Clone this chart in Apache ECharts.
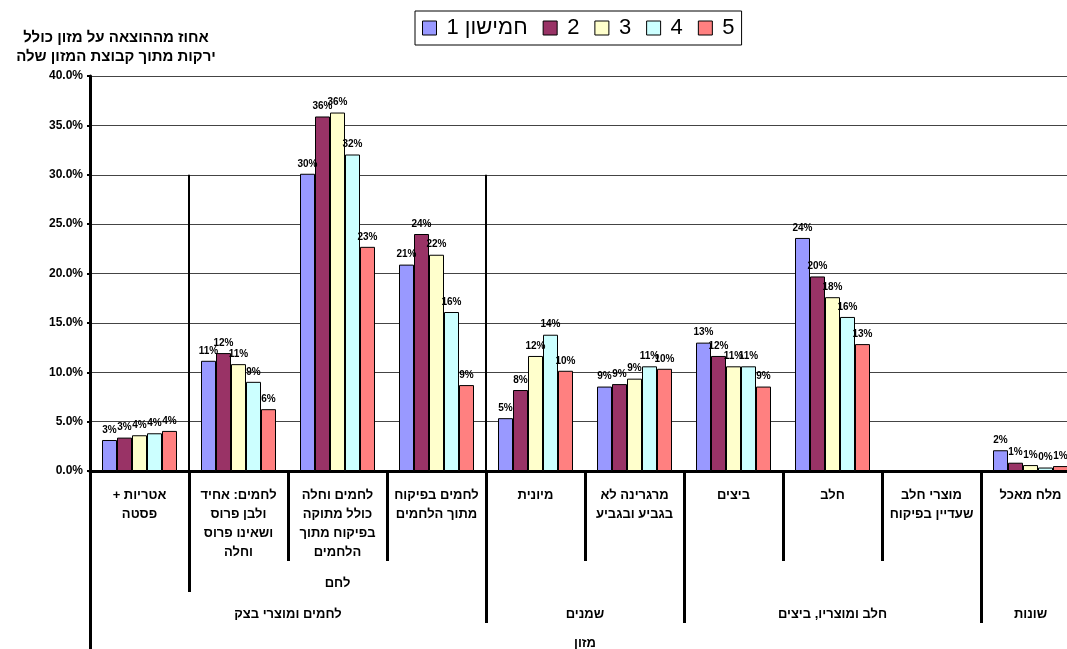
<!DOCTYPE html>
<html>
<head>
<meta charset="utf-8">
<script src="https://cdn.jsdelivr.net/npm/echarts@6/dist/echarts.min.js"></script>
<style>
html,body{margin:0;padding:0;background:#fff;overflow:hidden;}
#chart{width:1067px;height:649px;}
</style>
</head>
<body>
<div id="chart"></div>
<script>
// ---- data ----
const categories = [
  'אטריות +\u200F\nפסטה',
  'לחמים: אחיד\nולבן פרוס\nושאינו פרוס\nוחלה',
  'לחמים וחלה\nכולל מתוקה\nבפיקוח מתוך\nהלחמים',
  'לחמים בפיקוח\nמתוך הלחמים',
  'מיונית',
  'מרגרינה לא\nבגביע ובגביע',
  'ביצים',
  'חלב',
  'מוצרי חלב\nשעדיין בפיקוח',
  'מלח מאכל'
];
const seriesNames = ['\u20661 חמישון\u2069', '2', '3', '4', '5'];
const q1 = [3.14, 11.16, 30.1, 20.9, 5.35, 8.55, 13.0, 23.6, '-', 2.1];
const q2 = [3.38, 11.94, 35.9, 24.0, 8.2, 8.8, 11.65, 19.7, '-', 0.84];
const q3 = [3.62, 10.82, 36.3, 21.9, 11.65, 9.35, 10.6, 17.6, '-', 0.6];
const q4 = [3.82, 9.03, 32.05, 16.1, 13.8, 10.6, 10.6, 15.6, '-', 0.35];
const q5 = [4.06, 6.26, 22.7, 8.7, 10.15, 10.35, 8.55, 12.85, '-', 0.5];
// category groups (start index, end index)
const level2Groups = [{ name: 'לחם', from: 1, to: 3 }];
const level3Groups = [
  { name: 'לחמים ומוצרי בצק', from: 0, to: 3 },
  { name: 'שמנים', from: 4, to: 5 },
  { name: 'חלב ומוצריו, ביצים', from: 6, to: 8 },
  { name: 'שונות', from: 9, to: 9 }
];
const level4Groups = [{ name: 'מזון', from: 0, to: 9 }];
// vertical separator lines drawn inside plot (boundary after category index, height in %)
const plotSeparators = [{ after: 0, top: 30 }, { after: 3, top: 30 }];
const yTicks = { min: 0, max: 40, step: 5 };
const titleText = 'אחוז מההוצאה על מזון כולל\nירקות מתוך קבוצת המזון שלה';
const colors = ['#9999FF', '#993366', '#FFFFCC', '#CCFFFF', '#FF8080'];

// ---- build ----
const FONT = '"Liberation Sans", Arial, "DejaVu Sans", sans-serif';
const N = categories.length;
const slots = [];
for (let k = 0; k <= 2 * N; k++) slots.push(String(k));

function labelSlots(groups) {
  const arr = slots.map(() => '');
  groups.forEach(g => { arr[g.from + g.to + 1] = g.name; });
  return arr;
}
const boundaryLevel = slots.map((s, k) => (k % 2 === 0 ? 1 : 0));
function markBounds(groups, lvl) {
  groups.forEach(g => {
    const a = 2 * g.from, b = 2 * (g.to + 1);
    boundaryLevel[a] = Math.max(boundaryLevel[a], lvl);
    boundaryLevel[b] = Math.max(boundaryLevel[b], lvl);
  });
}
markBounds(level2Groups, 2);
markBounds(level3Groups, 3);
markBounds(level4Groups, 4);

const tickLen = { 1: 90, 2: 121, 3: 152, 4: 185 };
const labelMargin = { 2: 103, 3: 134, 4: 163 };
const levelLabels = { 1: slots.map(() => ''), 2: labelSlots(level2Groups), 3: labelSlots(level3Groups), 4: labelSlots(level4Groups) };

const extraAxes = [1, 2, 3, 4].map(lvl => ({
  type: 'category',
  gridIndex: 0,
  position: 'bottom',
  boundaryGap: false,
  data: levelLabels[lvl],
  axisLine: { show: false },
  axisTick: {
    show: true,
    length: tickLen[lvl],
    interval: (i) => boundaryLevel[i] === lvl,
    lineStyle: { color: '#000', width: 3 }
  },
  axisLabel: {
    show: lvl > 1,
    interval: 0,
    margin: labelMargin[lvl] || 0,
    fontFamily: FONT,
    fontSize: 13,
    fontWeight: 'bold',
    lineHeight: 19,
    color: '#000'
  },
  splitLine: { show: false }
}));

const quintiles = [q1, q2, q3, q4, q5];
const barSeries = quintiles.map((arr, i) => ({
  name: seriesNames[i],
  type: 'bar',
  xAxisIndex: 0,
  yAxisIndex: 0,
  data: arr,
  barWidth: 15,
  barGap: '0%',
  itemStyle: { color: colors[i], borderColor: '#000', borderWidth: 1 },
  label: {
    show: true,
    position: 'top',
    distance: 5,
    fontFamily: FONT,
    fontSize: 10,
    fontWeight: 'bold',
    color: '#000',
    formatter: p => Math.round(p.value) + '%'
  }
}));

const sepSeries = plotSeparators.map(s => ({
  type: 'line',
  xAxisIndex: 1,
  yAxisIndex: 0,
  data: [[2 * (s.after + 1), 0], [2 * (s.after + 1), s.top]],
  symbol: 'none',
  silent: true,
  lineStyle: { color: '#000', width: 2 },
  z: 3
}));

const chart = echarts.init(document.getElementById('chart'));
chart.setOption({
  animation: false,
  backgroundColor: '#fff',
  title: {
    text: titleText,
    left: 111,
    top: 23,
    textAlign: 'center',
    textStyle: { fontFamily: FONT, fontSize: 15, fontWeight: 'bold', lineHeight: 19, color: '#000' }
  },
  legend: {
    data: seriesNames,
    left: 415,
    top: 11,
    padding: [6, 7, 6, 7],
    itemGap: 15,
    itemWidth: 14,
    itemHeight: 14,
    icon: 'rect',
    borderColor: '#000',
    borderWidth: 1,
    itemStyle: { borderColor: '#000', borderWidth: 1 },
    textStyle: { fontFamily: FONT, fontSize: 22, color: '#000', padding: [0, 0, 0, 5] }
  },
  grid: { left: 90, width: 990, top: 76, bottom: 178, containLabel: false, outerBoundsMode: 'none' },
  xAxis: [{
    type: 'category',
    gridIndex: 0,
    position: 'bottom',
    data: categories,
    axisLine: { show: true, lineStyle: { color: '#000', width: 3 } },
    axisTick: { show: false },
    axisLabel: {
      interval: 0,
      margin: 15,
      fontFamily: FONT,
      fontSize: 13,
      fontWeight: 'bold',
      lineHeight: 19,
      color: '#000',
      align: 'center'
    },
    splitLine: { show: false }
  }].concat(extraAxes),
  yAxis: {
    type: 'value',
    min: yTicks.min,
    max: yTicks.max,
    interval: yTicks.step,
    axisLine: { show: true, lineStyle: { color: '#000', width: 3 } },
    axisTick: { show: true, length: 3, lineStyle: { color: '#000', width: 2 } },
    axisLabel: {
      margin: 7,
      fontFamily: FONT,
      fontSize: 12,
      fontWeight: 'bold',
      color: '#000',
      formatter: v => v.toFixed(1) + '%'
    },
    splitLine: { show: true, lineStyle: { color: '#444', width: 1 } }
  },
  series: barSeries.concat(sepSeries)
});
</script>
</body>
</html>
